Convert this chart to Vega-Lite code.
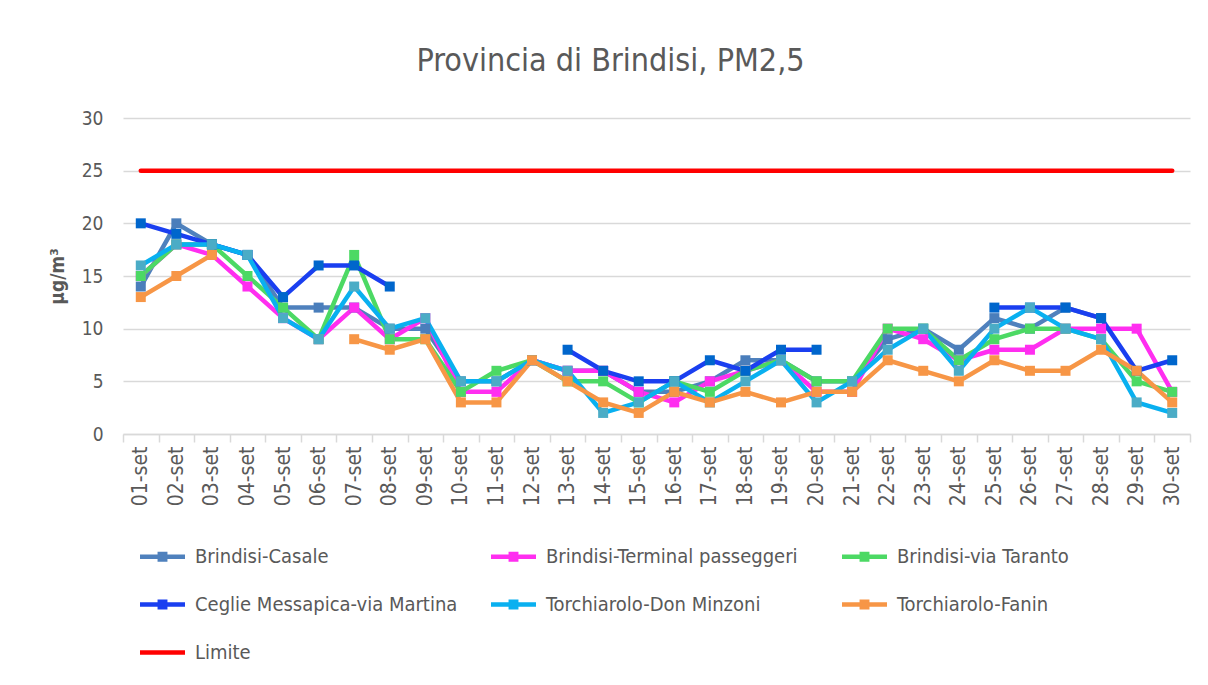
{
  "$schema": "https://vega.github.io/schema/vega-lite/v6.json",
  "width": 1067,
  "height": 316,
  "autosize": {"type": "none"},
  "padding": {"left": 123, "top": 118, "right": 18, "bottom": 251},
  "background": "white",
  "title": {
    "text": "Provincia di Brindisi, PM2,5",
    "font": "DejaVu Sans Condensed",
    "fontSize": 32,
    "fontWeight": "normal",
    "color": "#595959",
    "anchor": "middle",
    "frame": "group",
    "baseline": "alphabetic",
    "dx": -46,
    "offset": 6
  },
  "config": {
    "view": {"stroke": null},
    "font": "DejaVu Sans Condensed"
  },
  "data": {
    "values": [
      {"d": "01-set", "s": "Brindisi-Casale", "v": 14},
      {"d": "02-set", "s": "Brindisi-Casale", "v": 20},
      {"d": "03-set", "s": "Brindisi-Casale", "v": 18},
      {"d": "04-set", "s": "Brindisi-Casale", "v": 17},
      {"d": "05-set", "s": "Brindisi-Casale", "v": 12},
      {"d": "06-set", "s": "Brindisi-Casale", "v": 12},
      {"d": "07-set", "s": "Brindisi-Casale", "v": 12},
      {"d": "08-set", "s": "Brindisi-Casale", "v": 10},
      {"d": "09-set", "s": "Brindisi-Casale", "v": 10},
      {"d": "10-set", "s": "Brindisi-Casale", "v": 5},
      {"d": "11-set", "s": "Brindisi-Casale", "v": 5},
      {"d": "12-set", "s": "Brindisi-Casale", "v": 7},
      {"d": "13-set", "s": "Brindisi-Casale", "v": 6},
      {"d": "14-set", "s": "Brindisi-Casale", "v": 6},
      {"d": "15-set", "s": "Brindisi-Casale", "v": 4},
      {"d": "16-set", "s": "Brindisi-Casale", "v": 4},
      {"d": "17-set", "s": "Brindisi-Casale", "v": 5},
      {"d": "18-set", "s": "Brindisi-Casale", "v": 7},
      {"d": "19-set", "s": "Brindisi-Casale", "v": 7},
      {"d": "20-set", "s": "Brindisi-Casale", "v": 5},
      {"d": "21-set", "s": "Brindisi-Casale", "v": 5},
      {"d": "22-set", "s": "Brindisi-Casale", "v": 9},
      {"d": "23-set", "s": "Brindisi-Casale", "v": 10},
      {"d": "24-set", "s": "Brindisi-Casale", "v": 8},
      {"d": "25-set", "s": "Brindisi-Casale", "v": 11},
      {"d": "26-set", "s": "Brindisi-Casale", "v": 10},
      {"d": "27-set", "s": "Brindisi-Casale", "v": 12},
      {"d": "28-set", "s": "Brindisi-Casale", "v": 11},
      {"d": "29-set", "s": "Brindisi-Casale", "v": null},
      {"d": "30-set", "s": "Brindisi-Casale", "v": null},

      {"d": "01-set", "s": "Brindisi-Terminal passeggeri", "v": 15},
      {"d": "02-set", "s": "Brindisi-Terminal passeggeri", "v": 18},
      {"d": "03-set", "s": "Brindisi-Terminal passeggeri", "v": 17},
      {"d": "04-set", "s": "Brindisi-Terminal passeggeri", "v": 14},
      {"d": "05-set", "s": "Brindisi-Terminal passeggeri", "v": 11},
      {"d": "06-set", "s": "Brindisi-Terminal passeggeri", "v": 9},
      {"d": "07-set", "s": "Brindisi-Terminal passeggeri", "v": 12},
      {"d": "08-set", "s": "Brindisi-Terminal passeggeri", "v": 9},
      {"d": "09-set", "s": "Brindisi-Terminal passeggeri", "v": 11},
      {"d": "10-set", "s": "Brindisi-Terminal passeggeri", "v": 4},
      {"d": "11-set", "s": "Brindisi-Terminal passeggeri", "v": 4},
      {"d": "12-set", "s": "Brindisi-Terminal passeggeri", "v": 7},
      {"d": "13-set", "s": "Brindisi-Terminal passeggeri", "v": 6},
      {"d": "14-set", "s": "Brindisi-Terminal passeggeri", "v": 6},
      {"d": "15-set", "s": "Brindisi-Terminal passeggeri", "v": 4},
      {"d": "16-set", "s": "Brindisi-Terminal passeggeri", "v": 3},
      {"d": "17-set", "s": "Brindisi-Terminal passeggeri", "v": 5},
      {"d": "18-set", "s": "Brindisi-Terminal passeggeri", "v": 6},
      {"d": "19-set", "s": "Brindisi-Terminal passeggeri", "v": 7},
      {"d": "20-set", "s": "Brindisi-Terminal passeggeri", "v": 4},
      {"d": "21-set", "s": "Brindisi-Terminal passeggeri", "v": 4},
      {"d": "22-set", "s": "Brindisi-Terminal passeggeri", "v": 10},
      {"d": "23-set", "s": "Brindisi-Terminal passeggeri", "v": 9},
      {"d": "24-set", "s": "Brindisi-Terminal passeggeri", "v": 7},
      {"d": "25-set", "s": "Brindisi-Terminal passeggeri", "v": 8},
      {"d": "26-set", "s": "Brindisi-Terminal passeggeri", "v": 8},
      {"d": "27-set", "s": "Brindisi-Terminal passeggeri", "v": 10},
      {"d": "28-set", "s": "Brindisi-Terminal passeggeri", "v": 10},
      {"d": "29-set", "s": "Brindisi-Terminal passeggeri", "v": 10},
      {"d": "30-set", "s": "Brindisi-Terminal passeggeri", "v": 4},

      {"d": "01-set", "s": "Brindisi-via Taranto", "v": 15},
      {"d": "02-set", "s": "Brindisi-via Taranto", "v": 18},
      {"d": "03-set", "s": "Brindisi-via Taranto", "v": 18},
      {"d": "04-set", "s": "Brindisi-via Taranto", "v": 15},
      {"d": "05-set", "s": "Brindisi-via Taranto", "v": 12},
      {"d": "06-set", "s": "Brindisi-via Taranto", "v": 9},
      {"d": "07-set", "s": "Brindisi-via Taranto", "v": 17},
      {"d": "08-set", "s": "Brindisi-via Taranto", "v": 9},
      {"d": "09-set", "s": "Brindisi-via Taranto", "v": 9},
      {"d": "10-set", "s": "Brindisi-via Taranto", "v": 4},
      {"d": "11-set", "s": "Brindisi-via Taranto", "v": 6},
      {"d": "12-set", "s": "Brindisi-via Taranto", "v": 7},
      {"d": "13-set", "s": "Brindisi-via Taranto", "v": 5},
      {"d": "14-set", "s": "Brindisi-via Taranto", "v": 5},
      {"d": "15-set", "s": "Brindisi-via Taranto", "v": 3},
      {"d": "16-set", "s": "Brindisi-via Taranto", "v": 5},
      {"d": "17-set", "s": "Brindisi-via Taranto", "v": 4},
      {"d": "18-set", "s": "Brindisi-via Taranto", "v": 6},
      {"d": "19-set", "s": "Brindisi-via Taranto", "v": 7},
      {"d": "20-set", "s": "Brindisi-via Taranto", "v": 5},
      {"d": "21-set", "s": "Brindisi-via Taranto", "v": 5},
      {"d": "22-set", "s": "Brindisi-via Taranto", "v": 10},
      {"d": "23-set", "s": "Brindisi-via Taranto", "v": 10},
      {"d": "24-set", "s": "Brindisi-via Taranto", "v": 7},
      {"d": "25-set", "s": "Brindisi-via Taranto", "v": 9},
      {"d": "26-set", "s": "Brindisi-via Taranto", "v": 10},
      {"d": "27-set", "s": "Brindisi-via Taranto", "v": 10},
      {"d": "28-set", "s": "Brindisi-via Taranto", "v": 9},
      {"d": "29-set", "s": "Brindisi-via Taranto", "v": 5},
      {"d": "30-set", "s": "Brindisi-via Taranto", "v": 4},

      {"d": "01-set", "s": "Ceglie Messapica-via Martina", "v": 20},
      {"d": "02-set", "s": "Ceglie Messapica-via Martina", "v": 19},
      {"d": "03-set", "s": "Ceglie Messapica-via Martina", "v": 18},
      {"d": "04-set", "s": "Ceglie Messapica-via Martina", "v": 17},
      {"d": "05-set", "s": "Ceglie Messapica-via Martina", "v": 13},
      {"d": "06-set", "s": "Ceglie Messapica-via Martina", "v": 16},
      {"d": "07-set", "s": "Ceglie Messapica-via Martina", "v": 16},
      {"d": "08-set", "s": "Ceglie Messapica-via Martina", "v": 14},
      {"d": "09-set", "s": "Ceglie Messapica-via Martina", "v": null},
      {"d": "10-set", "s": "Ceglie Messapica-via Martina", "v": null},
      {"d": "11-set", "s": "Ceglie Messapica-via Martina", "v": null},
      {"d": "12-set", "s": "Ceglie Messapica-via Martina", "v": null},
      {"d": "13-set", "s": "Ceglie Messapica-via Martina", "v": 8},
      {"d": "14-set", "s": "Ceglie Messapica-via Martina", "v": 6},
      {"d": "15-set", "s": "Ceglie Messapica-via Martina", "v": 5},
      {"d": "16-set", "s": "Ceglie Messapica-via Martina", "v": 5},
      {"d": "17-set", "s": "Ceglie Messapica-via Martina", "v": 7},
      {"d": "18-set", "s": "Ceglie Messapica-via Martina", "v": 6},
      {"d": "19-set", "s": "Ceglie Messapica-via Martina", "v": 8},
      {"d": "20-set", "s": "Ceglie Messapica-via Martina", "v": 8},
      {"d": "21-set", "s": "Ceglie Messapica-via Martina", "v": null},
      {"d": "22-set", "s": "Ceglie Messapica-via Martina", "v": null},
      {"d": "23-set", "s": "Ceglie Messapica-via Martina", "v": null},
      {"d": "24-set", "s": "Ceglie Messapica-via Martina", "v": null},
      {"d": "25-set", "s": "Ceglie Messapica-via Martina", "v": 12},
      {"d": "26-set", "s": "Ceglie Messapica-via Martina", "v": 12},
      {"d": "27-set", "s": "Ceglie Messapica-via Martina", "v": 12},
      {"d": "28-set", "s": "Ceglie Messapica-via Martina", "v": 11},
      {"d": "29-set", "s": "Ceglie Messapica-via Martina", "v": 6},
      {"d": "30-set", "s": "Ceglie Messapica-via Martina", "v": 7},

      {"d": "01-set", "s": "Torchiarolo-Don Minzoni", "v": 16},
      {"d": "02-set", "s": "Torchiarolo-Don Minzoni", "v": 18},
      {"d": "03-set", "s": "Torchiarolo-Don Minzoni", "v": 18},
      {"d": "04-set", "s": "Torchiarolo-Don Minzoni", "v": 17},
      {"d": "05-set", "s": "Torchiarolo-Don Minzoni", "v": 11},
      {"d": "06-set", "s": "Torchiarolo-Don Minzoni", "v": 9},
      {"d": "07-set", "s": "Torchiarolo-Don Minzoni", "v": 14},
      {"d": "08-set", "s": "Torchiarolo-Don Minzoni", "v": 10},
      {"d": "09-set", "s": "Torchiarolo-Don Minzoni", "v": 11},
      {"d": "10-set", "s": "Torchiarolo-Don Minzoni", "v": 5},
      {"d": "11-set", "s": "Torchiarolo-Don Minzoni", "v": 5},
      {"d": "12-set", "s": "Torchiarolo-Don Minzoni", "v": 7},
      {"d": "13-set", "s": "Torchiarolo-Don Minzoni", "v": 6},
      {"d": "14-set", "s": "Torchiarolo-Don Minzoni", "v": 2},
      {"d": "15-set", "s": "Torchiarolo-Don Minzoni", "v": 3},
      {"d": "16-set", "s": "Torchiarolo-Don Minzoni", "v": 5},
      {"d": "17-set", "s": "Torchiarolo-Don Minzoni", "v": 3},
      {"d": "18-set", "s": "Torchiarolo-Don Minzoni", "v": 5},
      {"d": "19-set", "s": "Torchiarolo-Don Minzoni", "v": 7},
      {"d": "20-set", "s": "Torchiarolo-Don Minzoni", "v": 3},
      {"d": "21-set", "s": "Torchiarolo-Don Minzoni", "v": 5},
      {"d": "22-set", "s": "Torchiarolo-Don Minzoni", "v": 8},
      {"d": "23-set", "s": "Torchiarolo-Don Minzoni", "v": 10},
      {"d": "24-set", "s": "Torchiarolo-Don Minzoni", "v": 6},
      {"d": "25-set", "s": "Torchiarolo-Don Minzoni", "v": 10},
      {"d": "26-set", "s": "Torchiarolo-Don Minzoni", "v": 12},
      {"d": "27-set", "s": "Torchiarolo-Don Minzoni", "v": 10},
      {"d": "28-set", "s": "Torchiarolo-Don Minzoni", "v": 9},
      {"d": "29-set", "s": "Torchiarolo-Don Minzoni", "v": 3},
      {"d": "30-set", "s": "Torchiarolo-Don Minzoni", "v": 2},

      {"d": "01-set", "s": "Torchiarolo-Fanin", "v": 13},
      {"d": "02-set", "s": "Torchiarolo-Fanin", "v": 15},
      {"d": "03-set", "s": "Torchiarolo-Fanin", "v": 17},
      {"d": "04-set", "s": "Torchiarolo-Fanin", "v": null},
      {"d": "05-set", "s": "Torchiarolo-Fanin", "v": null},
      {"d": "06-set", "s": "Torchiarolo-Fanin", "v": null},
      {"d": "07-set", "s": "Torchiarolo-Fanin", "v": 9},
      {"d": "08-set", "s": "Torchiarolo-Fanin", "v": 8},
      {"d": "09-set", "s": "Torchiarolo-Fanin", "v": 9},
      {"d": "10-set", "s": "Torchiarolo-Fanin", "v": 3},
      {"d": "11-set", "s": "Torchiarolo-Fanin", "v": 3},
      {"d": "12-set", "s": "Torchiarolo-Fanin", "v": 7},
      {"d": "13-set", "s": "Torchiarolo-Fanin", "v": 5},
      {"d": "14-set", "s": "Torchiarolo-Fanin", "v": 3},
      {"d": "15-set", "s": "Torchiarolo-Fanin", "v": 2},
      {"d": "16-set", "s": "Torchiarolo-Fanin", "v": 4},
      {"d": "17-set", "s": "Torchiarolo-Fanin", "v": 3},
      {"d": "18-set", "s": "Torchiarolo-Fanin", "v": 4},
      {"d": "19-set", "s": "Torchiarolo-Fanin", "v": 3},
      {"d": "20-set", "s": "Torchiarolo-Fanin", "v": 4},
      {"d": "21-set", "s": "Torchiarolo-Fanin", "v": 4},
      {"d": "22-set", "s": "Torchiarolo-Fanin", "v": 7},
      {"d": "23-set", "s": "Torchiarolo-Fanin", "v": 6},
      {"d": "24-set", "s": "Torchiarolo-Fanin", "v": 5},
      {"d": "25-set", "s": "Torchiarolo-Fanin", "v": 7},
      {"d": "26-set", "s": "Torchiarolo-Fanin", "v": 6},
      {"d": "27-set", "s": "Torchiarolo-Fanin", "v": 6},
      {"d": "28-set", "s": "Torchiarolo-Fanin", "v": 8},
      {"d": "29-set", "s": "Torchiarolo-Fanin", "v": 6},
      {"d": "30-set", "s": "Torchiarolo-Fanin", "v": 3},

      {"d": "01-set", "s": "Limite", "v": 25},
      {"d": "02-set", "s": "Limite", "v": 25},
      {"d": "03-set", "s": "Limite", "v": 25},
      {"d": "04-set", "s": "Limite", "v": 25},
      {"d": "05-set", "s": "Limite", "v": 25},
      {"d": "06-set", "s": "Limite", "v": 25},
      {"d": "07-set", "s": "Limite", "v": 25},
      {"d": "08-set", "s": "Limite", "v": 25},
      {"d": "09-set", "s": "Limite", "v": 25},
      {"d": "10-set", "s": "Limite", "v": 25},
      {"d": "11-set", "s": "Limite", "v": 25},
      {"d": "12-set", "s": "Limite", "v": 25},
      {"d": "13-set", "s": "Limite", "v": 25},
      {"d": "14-set", "s": "Limite", "v": 25},
      {"d": "15-set", "s": "Limite", "v": 25},
      {"d": "16-set", "s": "Limite", "v": 25},
      {"d": "17-set", "s": "Limite", "v": 25},
      {"d": "18-set", "s": "Limite", "v": 25},
      {"d": "19-set", "s": "Limite", "v": 25},
      {"d": "20-set", "s": "Limite", "v": 25},
      {"d": "21-set", "s": "Limite", "v": 25},
      {"d": "22-set", "s": "Limite", "v": 25},
      {"d": "23-set", "s": "Limite", "v": 25},
      {"d": "24-set", "s": "Limite", "v": 25},
      {"d": "25-set", "s": "Limite", "v": 25},
      {"d": "26-set", "s": "Limite", "v": 25},
      {"d": "27-set", "s": "Limite", "v": 25},
      {"d": "28-set", "s": "Limite", "v": 25},
      {"d": "29-set", "s": "Limite", "v": 25},
      {"d": "30-set", "s": "Limite", "v": 25}
    ]
  },
  "encoding": {
    "x": {
      "field": "d",
      "type": "ordinal",
      "scale": {"type": "band", "paddingInner": 0, "paddingOuter": 0},
      "axis": {
        "title": null,
        "labelAngle": -90,
        "labelFont": "DejaVu Sans Condensed",
        "labelFontSize": 21,
        "labelColor": "#595959",
        "labelPadding": 4,
        "tickBand": "extent",
        "tickSize": 8,
        "tickColor": "#d9d9d9",
        "tickWidth": 1.5,
        "domainColor": "#d9d9d9",
        "domainWidth": 1.5,
        "grid": false
      }
    },
    "y": {
      "field": "v",
      "type": "quantitative",
      "scale": {"domain": [0, 30], "nice": false, "zero": true},
      "axis": {
        "title": "µg/m³",
        "titleFont": "DejaVu Sans Condensed",
        "titleFontSize": 19,
        "titleFontWeight": "bold",
        "titleColor": "#595959",
        "titlePadding": 14,
        "values": [0, 5, 10, 15, 20, 25, 30],
        "labelFont": "DejaVu Sans Condensed",
        "labelFontSize": 19,
        "labelColor": "#595959",
        "labelPadding": 20,
        "domain": false,
        "ticks": false,
        "grid": true,
        "gridColor": "#d9d9d9",
        "gridWidth": 1.5
      }
    }
  },
  "layer": [
    {
      "mark": {"type": "line", "strokeWidth": 4.5, "strokeJoin": "round", "strokeCap": "round"},
      "encoding": {
        "color": {
          "field": "s",
          "type": "nominal",
          "sort": ["Brindisi-Casale", "Brindisi-Terminal passeggeri", "Brindisi-via Taranto", "Ceglie Messapica-via Martina", "Torchiarolo-Don Minzoni", "Torchiarolo-Fanin", "Limite"],
          "scale": {
            "domain": ["Brindisi-Casale", "Brindisi-Terminal passeggeri", "Brindisi-via Taranto", "Ceglie Messapica-via Martina", "Torchiarolo-Don Minzoni", "Torchiarolo-Fanin", "Limite"],
            "range": ["#4f81bd", "#ff2ef0", "#4cd964", "#1a3ff0", "#09b0f0", "#f79646", "#ff0000"]
          },
          "legend": {
            "title": null,
            "orient": "none",
            "legendX": 17,
            "legendY": 416,
            "direction": "horizontal",
            "columns": 3,
            "gridAlign": "all",
            "columnPadding": 33,
            "rowPadding": 15,
            "labelFont": "DejaVu Sans Condensed",
            "labelFontSize": 20,
            "labelColor": "#595959",
            "labelOffset": 10,
            "labelLimit": 400,
            "symbolSize": 2025,
            "symbolStrokeWidth": 0,
            "symbolType": "M-1,-0.1H1V0.1H-1Z",
            "encode": {
              "symbols": {
                "update": {
                  "fill": {"scale": "color", "field": "value"},
                  "strokeWidth": {"value": 0},
                  "shape": {"signal": "datum.value === 'Limite' ? 'M-1,-0.1H1V0.1H-1Z' : 'M-1,-0.1H1V0.1H-1Z M-0.22,-0.22H0.22V0.22H-0.22Z'"}
                }
              }
            }
          }
        }
      }
    },
    {
      "transform": [{"filter": "datum.s !== 'Limite' && datum.v != null"}],
      "mark": {"type": "point", "shape": "square", "filled": true, "size": 100, "opacity": 1},
      "encoding": {
        "fill": {
          "field": "s",
          "type": "nominal",
          "scale": {
            "domain": ["Brindisi-Casale", "Brindisi-Terminal passeggeri", "Brindisi-via Taranto", "Ceglie Messapica-via Martina", "Torchiarolo-Don Minzoni", "Torchiarolo-Fanin"],
            "range": ["#4a7ebb", "#ff2ef0", "#4cd964", "#0066cc", "#4bacc6", "#f79646"]
          },
          "legend": null
        }
      }
    }
  ]
}
